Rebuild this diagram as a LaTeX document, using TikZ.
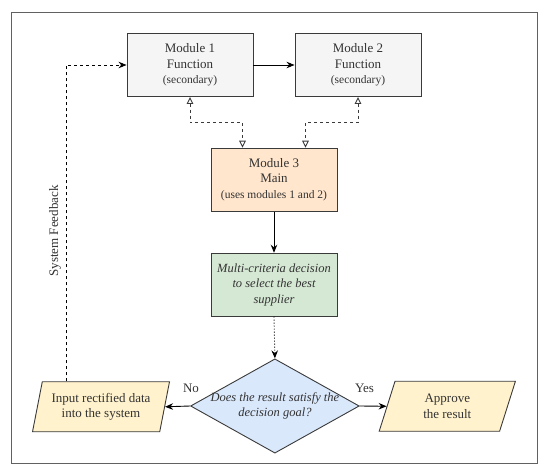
\documentclass[tikz,border=0pt]{standalone}
\usepackage{fontspec}
\setmainfont{Liberation Serif}
\usetikzlibrary{arrows.meta,shapes.geometric,calc}
\definecolor{ink}{HTML}{333333}
\definecolor{edge}{HTML}{3A3A3A}
\definecolor{grayfill}{HTML}{F5F5F5}
\definecolor{orangefill}{HTML}{FFE6CC}
\definecolor{greenfill}{HTML}{D5E8D4}
\definecolor{bluefill}{HTML}{DAE8FC}
\definecolor{yellowfill}{HTML}{FFF2CC}
\tikzset{
  txt/.style={font=\fontsize{13}{15.5}\selectfont, text=ink},
  itxt/.style={font=\fontsize{12.5}{15.5}\selectfont\itshape, text=ink},
  modbox/.style={draw=edge, line width=0.9pt, minimum width=126pt, minimum height=63pt, align=center, inner sep=2pt, txt},
  diabox/.style={diamond, draw=edge, line width=0.9pt, fill=bluefill, minimum width=168.7pt, minimum height=94.3pt, inner sep=0pt},
  parabox/.style={trapezium, trapezium left angle=73.3, trapezium right angle=106.7, trapezium stretches=true, draw=edge, line width=0.9pt, fill=yellowfill, minimum width=137pt, minimum height=50pt, align=center, inner sep=0pt, txt},
  solidarrow/.style={draw=black, line width=0.9pt, -{Stealth[length=8pt,width=6.5pt]}},
  dashlink/.style={draw=edge, line width=0.9pt, dash pattern=on 3pt off 3pt, {Triangle[open,length=7pt,width=6.5pt]}-{Triangle[open,length=7pt,width=6.5pt]}},
  fbarrow/.style={draw=black, line width=0.9pt, dash pattern=on 3pt off 3pt, -{Stealth[length=8pt,width=6.5pt]}},
  dotarrow/.style={draw=black, line width=0.9pt, dash pattern=on 1pt off 2pt, -{Stealth[length=8pt,width=6.5pt]}}
}
\newcommand{\paren}[1]{{\fontsize{11.5}{14}\selectfont #1}}
\begin{document}
\begin{tikzpicture}[x=1pt,y=-1pt]
\useasboundingbox (0,0) rectangle (550,473);
\draw[draw=edge!80, line width=0.9pt] (11.6,12.7) rectangle (537,463.3);

\node[modbox, fill=grayfill] (m1) at (190,65) {Module 1\\Function\\\paren{(secondary)}};
\node[modbox, fill=grayfill] (m2) at (358,65) {Module 2\\Function\\\paren{(secondary)}};
\node[modbox, fill=orangefill] (m3) at (274,179.7) {Module 3\\Main\\\paren{(uses modules 1 and 2)}};
\node[modbox, fill=greenfill, itxt] (mc) at (274,284.7) {Multi-criteria decision\\to select the best\\supplier};
\node[diabox] (dec) at (274.9,406) {};
\node[itxt, align=center] (dect) at (dec.center) {Does the result satisfy the\\decision goal?};
\node[parabox] (lp) at (101,406.8) {Input rectified data\\into the system};
\node[parabox] (rp) at (447.3,406.3) {Approve\\the result};

\node[txt] (no) at (191,388) {No};
\node[txt] (yes) at (364.5,388) {Yes};
\node[txt, rotate=90] (fbl) at (55,231) {System Feedback};

\draw[solidarrow] (m1.east) -- (m2.west);
\draw[dashlink] (m1.south) -- ++(0,25.6) -| ($(m3.north)+(-31.5,0)$);
\draw[dashlink] (m2.south) -- ++(0,25.6) -| ($(m3.north)+(31.5,0)$);
\draw[solidarrow] (m3.south) -- (mc.north);
\draw[dotarrow] (mc.south) -- (dec.north);
\draw[solidarrow] (dec.west) -- (lp.east);
\draw[solidarrow] (dec.east) -- (rp.west);
\coordinate (fbx) at (66.8,0);
\draw[fbarrow] (fbx |- lp.north) |- (m1.west);
\end{tikzpicture}
\end{document}
